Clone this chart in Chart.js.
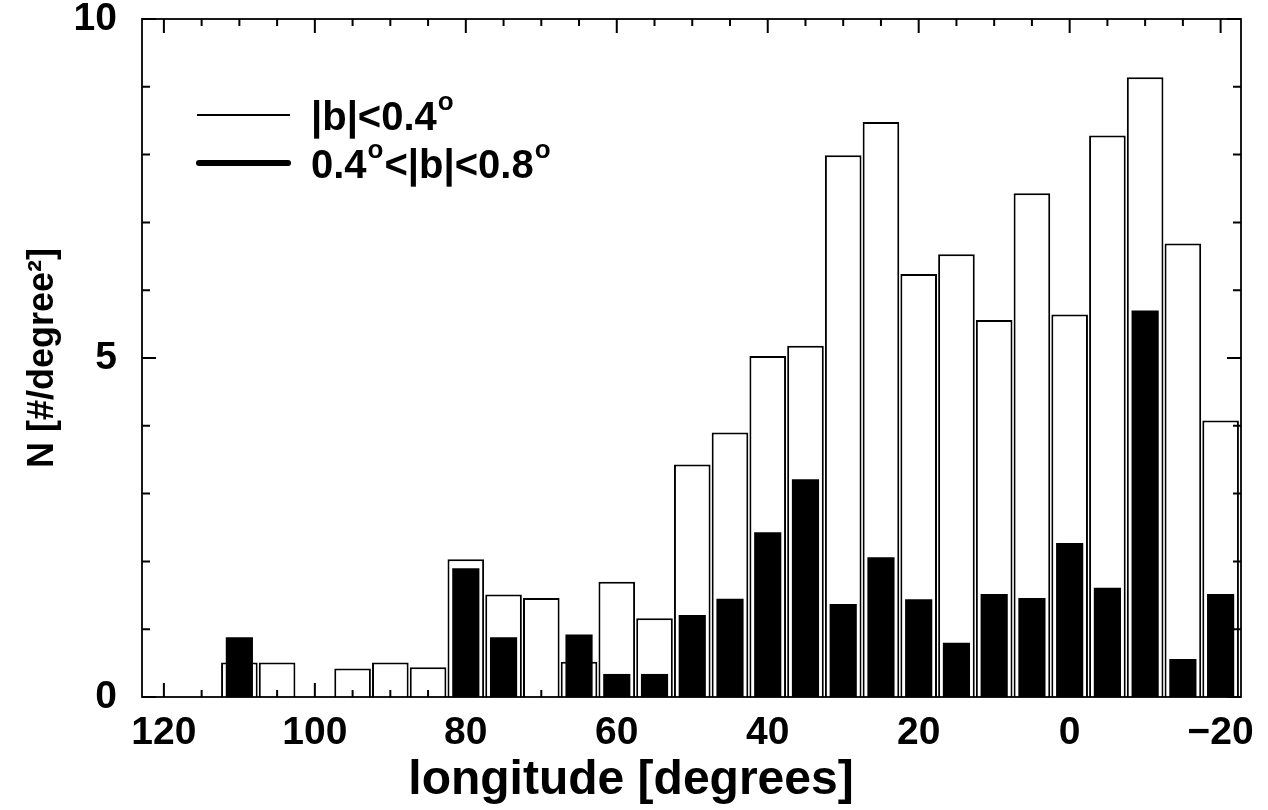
<!DOCTYPE html>
<html>
<head>
<meta charset="utf-8">
<script src="https://cdn.jsdelivr.net/npm/chart.js@4.4.0/dist/chart.umd.min.js"></script>
<style>
html,body{margin:0;padding:0;background:#fff;}
#wrap{width:1268px;height:810px;position:relative;}
</style>
</head>
<body>
<div id="wrap"><canvas id="c" width="1268" height="810"></canvas></div>
<script>
// ---- data ----
const longitudes = [110,105,100,95,90,85,80,75,70,65,60,55,50,45,40,35,30,25,20,15,10,5,0,-5,-10,-15,-20];
const innerCounts = [0.51,0.51,null,0.42,0.51,0.44,2.03,1.51,1.46,0.52,1.70,1.16,3.43,3.90,5.03,5.18,7.99,8.48,6.24,6.53,5.56,7.43,5.64,8.28,9.14,6.69,4.08];
const outerCounts = [0.88,null,null,null,null,null,1.90,0.88,null,0.92,0.34,0.34,1.21,1.45,2.43,3.21,1.37,2.06,1.44,0.80,1.52,1.46,2.27,1.61,5.70,0.56,1.52];
const seriesNames = ['|b|<0.4°', '0.4°<|b|<0.8°'];
const xTickValues = [120,100,80,60,40,20,0,-20];
const xMinorValues = [115,110,105,95,90,85,75,70,65,55,50,45,35,30,25,15,10,5,-5,-10,-15];
const yTickValues = [0,5,10];
const yMinorValues = [1,2,3,4,6,7,8,9];
const xTitle = 'longitude [degrees]';
const yTitle = 'N [#/degree²]';

const FONT = "'Liberation Sans', Arial, Helvetica, sans-serif";

function drawSupText(ctx, str, x, y, size) {
  // draws text where '°' is rendered as a small raised 'o'
  const parts = str.split('°');
  let cx = x;
  parts.forEach((p, i) => {
    ctx.font = `bold ${size}px ${FONT}`;
    ctx.fillText(p, cx, y);
    cx += ctx.measureText(p).width;
    if (i < parts.length - 1) {
      ctx.font = `bold ${Math.round(size*0.66)}px ${FONT}`;
      ctx.fillText('o', cx + 1, y - size*0.5);
      cx += ctx.measureText('o').width + 2;
    }
  });
}

const framePlugin = {
  id: 'frame',
  afterDatasetsDraw(chart) {
    const {ctx, chartArea: a, scales: {x, y}} = chart;
    ctx.save();
    ctx.strokeStyle = '#000';
    ctx.lineWidth = 2;
    ctx.beginPath();
    xTickValues.forEach(v => {
      const px = x.getPixelForValue(v);
      ctx.moveTo(px, a.bottom); ctx.lineTo(px, a.bottom - 14);
      ctx.moveTo(px, a.top); ctx.lineTo(px, a.top + 14);
    });
    xMinorValues.forEach(v => {
      const px = x.getPixelForValue(v);
      ctx.moveTo(px, a.bottom); ctx.lineTo(px, a.bottom - 7);
      ctx.moveTo(px, a.top); ctx.lineTo(px, a.top + 7);
    });
    yTickValues.forEach(v => {
      const py = y.getPixelForValue(v);
      ctx.moveTo(a.left, py); ctx.lineTo(a.left + 14, py);
      ctx.moveTo(a.right, py); ctx.lineTo(a.right - 14, py);
    });
    yMinorValues.forEach(v => {
      const py = y.getPixelForValue(v);
      ctx.moveTo(a.left, py); ctx.lineTo(a.left + 8, py);
      ctx.moveTo(a.right, py); ctx.lineTo(a.right - 8, py);
    });
    ctx.stroke();
    ctx.lineWidth = 1.8;
    ctx.strokeRect(a.left, a.top, a.right - a.left, a.bottom - a.top);

    // legend
    ctx.lineCap = 'butt';
    ctx.lineWidth = 2;
    ctx.beginPath(); ctx.moveTo(197, 115); ctx.lineTo(290, 115); ctx.stroke();
    ctx.lineCap = 'round';
    ctx.lineWidth = 6;
    ctx.beginPath(); ctx.moveTo(199, 163); ctx.lineTo(288, 163); ctx.stroke();
    ctx.fillStyle = '#000';
    ctx.textBaseline = 'alphabetic';
    ctx.textAlign = 'left';
    drawSupText(ctx, chart.data.datasets[0].label, 311, 130, 40);
    drawSupText(ctx, chart.data.datasets[1].label, 311, 178, 40);

    // x-axis title, centred on the page as in the reference
    ctx.font = `bold 48px ${FONT}`;
    ctx.textAlign = 'center';
    ctx.textBaseline = 'alphabetic';
    ctx.fillText(xTitle, 631, 794);
    ctx.restore();
  }
};

const fmt = v => (v < 0 ? '\u2212' + Math.abs(v) : String(v));

new Chart(document.getElementById('c'), {
  type: 'bar',
  data: {
    datasets: [
      {
        label: seriesNames[0],
        data: longitudes.map((l, i) => ({x: l, y: innerCounts[i]})),
        backgroundColor: '#ffffff',
        borderColor: '#000000',
        borderWidth: 2,
        borderSkipped: 'start',
        barPercentage: 0.97,
        categoryPercentage: 1,
        grouped: false,
        order: 1
      },
      {
        label: seriesNames[1],
        data: longitudes.map((l, i) => ({x: l, y: outerCounts[i]})),
        backgroundColor: '#000000',
        borderWidth: 0,
        barPercentage: 0.72,
        categoryPercentage: 1,
        grouped: false,
        order: 0
      }
    ]
  },
  options: {
    responsive: false,
    animation: false,
    devicePixelRatio: 1,
    layout: {padding: {left: 0, right: 27, top: 19, bottom: 0}},
    plugins: {legend: {display: false}, tooltip: {enabled: false}},
    scales: {
      x: {
        type: 'linear',
        reverse: true,
        min: -22.7,
        max: 122.9,
        offset: false,
        grid: {display: false, drawTicks: false},
        border: {display: false},
        afterBuildTicks: s => { s.ticks = xTickValues.map(v => ({value: v})); },
        afterFit: s => { s.height = 113; s.paddingLeft = 0; s.paddingRight = 0; },
        ticks: {
          autoSkip: false, maxRotation: 0, padding: 13, color: '#000',
          font: {family: FONT, size: 39, weight: 'bold'},
          callback: v => fmt(v)
        },
        title: {display: false, text: xTitle}
      },
      y: {
        min: 0, max: 10,
        grid: {display: false, drawTicks: false},
        border: {display: false},
        afterBuildTicks: s => { s.ticks = yTickValues.map(v => ({value: v})); },
        afterFit: s => { s.width = 142; s.paddingTop = 0; s.paddingBottom = 0; },
        ticks: {
          padding: 25, color: '#000',
          font: {family: FONT, size: 39, weight: 'bold'},
          callback: v => fmt(v)
        },
        title: {
          display: true, text: yTitle, color: '#000',
          font: {family: FONT, size: 36, weight: 'bold'},
          padding: {top: 21, bottom: 0}
        }
      }
    }
  },
  plugins: [framePlugin]
});
</script>
</body>
</html>
